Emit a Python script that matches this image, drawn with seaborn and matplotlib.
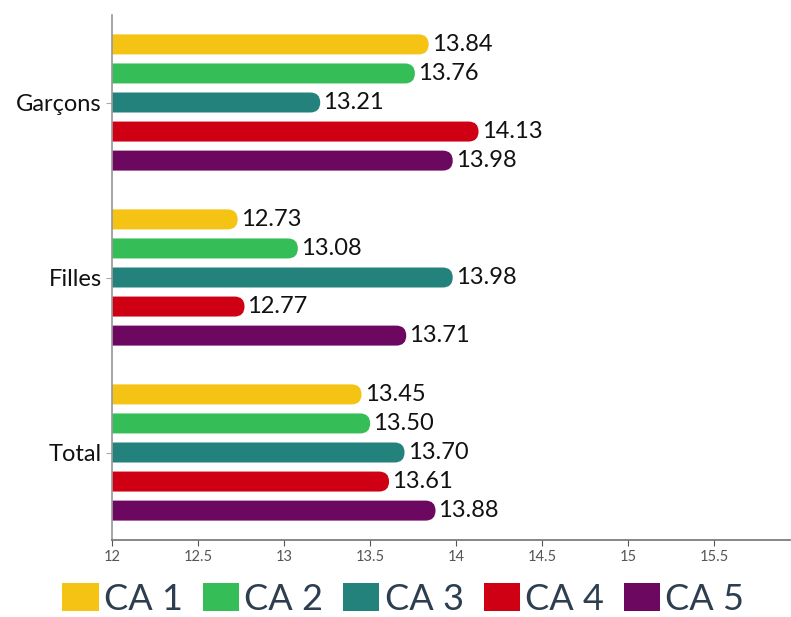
import seaborn as sns
import matplotlib.pyplot as plt
import pandas as pd
from matplotlib.patches import FancyBboxPatch, Patch

groups = ["Garçons", "Filles", "Total"]
series = ["CA 1", "CA 2", "CA 3", "CA 4", "CA 5"]
ca1 = [13.84, 12.73, 13.45]
ca2 = [13.76, 13.08, 13.50]
ca3 = [13.21, 13.98, 13.70]
ca4 = [14.13, 12.77, 13.61]
ca5 = [13.98, 13.71, 13.88]
x_ticks = [12, 12.5, 13, 13.5, 14, 14.5, 15, 15.5]
x_tick_labels = ["12", "12.5", "13", "13.5", "14", "14.5", "15", "15.5"]
colors = ["#F4C314", "#35BE57", "#23837C", "#CF0013", "#6D0860"]

rows = []
for name, vals in zip(series, [ca1, ca2, ca3, ca4, ca5]):
    for g, v in zip(groups, vals):
        rows.append({"group": g, "ca": name, "value": v})
df = pd.DataFrame(rows)

sns.set_theme(style="white")
plt.rcParams['font.family'] = ['Lato', 'DejaVu Sans']

W, H = 791, 617
fig = plt.figure(figsize=(W / 100, H / 100), dpi=100)
ax = fig.add_axes([112 / W, (H - 540) / H, (790 - 112) / W, (540 - 15) / H])

sns.barplot(data=df, y="group", x="value", hue="ca", order=groups,
            hue_order=series, palette=colors, orient="h", width=0.83,
            legend=False, ax=ax)
ax.set_xlim(12, 15.94)
ax.set_ylim(2.5, -0.5)

# pixel scale of the axes, used for rounded bar ends
ax_w_px = (790 - 112)
ax_h_px = (540 - 15)
x_per_px = (15.94 - 12) / ax_w_px
y_per_px = 3.0 / ax_h_px
aspect = y_per_px / x_per_px

bar_h = 20 * y_per_px
for cont, col in zip(ax.containers, colors):
    for rect in cont:
        w = rect.get_width()
        yc = rect.get_y() + rect.get_height() / 2
        rect.set_visible(False)
        r = (bar_h / 2) / aspect
        fb = FancyBboxPatch((0, yc - bar_h / 2), w, bar_h,
                            boxstyle=f"round,pad=0,rounding_size={r}",
                            mutation_aspect=aspect, facecolor=col,
                            edgecolor="none", clip_on=True)
        ax.add_patch(fb)
        ax.text(w + 3 * x_per_px, yc, f"{w:.2f}", va="center", ha="left",
                fontsize=17, color="#111111")

ax.set_xticks(x_ticks)
ax.set_xticklabels(x_tick_labels)
ax.set_xlabel("")
ax.set_ylabel("")
ax.tick_params(axis="x", labelsize=10.5, colors="#555555", length=4,
               width=0.8, direction="out", bottom=True, pad=3)
ax.tick_params(axis="y", labelsize=17, labelcolor="#111111", length=4,
               color="#aaaaaa", width=0.8, direction="out", left=True)
for s in ["top", "right"]:
    ax.spines[s].set_visible(False)
ax.spines["left"].set_color("#999999")
ax.spines["bottom"].set_color("#777777")

handles = [Patch(facecolor=c, edgecolor="none", label=l) for c, l in zip(colors, series)]
leg = fig.legend(handles=handles, loc="center", ncol=5,
                 bbox_to_anchor=(0.51, 1 - 599 / H), frameon=False, fontsize=26,
                 handlelength=1.0, handleheight=0.8, handletextpad=0.15,
                 columnspacing=0.55, labelcolor="#2d3e50",
                 borderpad=0.1)

fig.savefig("out.png", dpi=100)
